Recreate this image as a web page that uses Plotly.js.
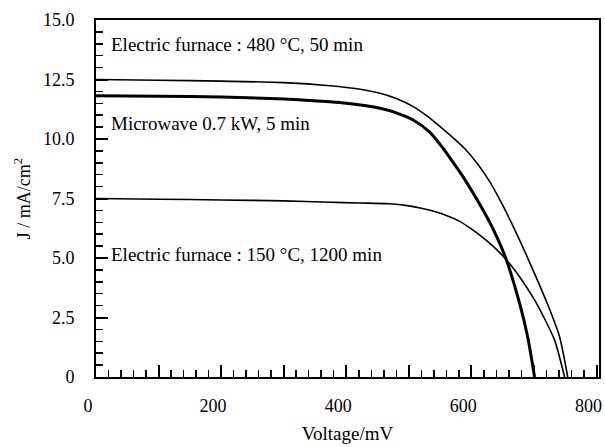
<!DOCTYPE html>
<html>
<head>
<meta charset="utf-8">
<script src="https://cdn.plot.ly/plotly-3.0.1.min.js"></script>
<style>html,body{margin:0;padding:0;background:#fff;}#chart{width:605px;height:447px;}</style>
</head>
<body>
<div id="chart"></div>
<script>
// Electric furnace : 480 °C, 50 min
const vFurnace480 = [0, 100, 200, 300, 374, 420, 454, 480, 507, 530, 550, 570, 590, 610, 630, 650, 670, 690, 710, 725, 741, 754];
const jFurnace480 = [12.5, 12.47, 12.43, 12.37, 12.24, 12.1, 11.92, 11.7, 11.36, 10.95, 10.52, 10.07, 9.58, 8.95, 8.18, 7.22, 6.15, 5.0, 3.8, 2.85, 1.69, 0];
// Microwave 0.7 kW, 5 min
const vMicrowave = [0, 100, 200, 300, 374, 400, 454, 480, 507, 533, 555, 570, 587, 603, 620, 635, 656, 677, 690, 701];
const jMicrowave = [11.82, 11.8, 11.76, 11.68, 11.56, 11.5, 11.29, 11.1, 10.8, 10.3, 9.6, 9.05, 8.4, 7.72, 6.95, 6.2, 4.92, 3.1, 1.68, 0];
// Electric furnace : 150 °C, 1200 min
const vFurnace150 = [0, 100, 200, 300, 374, 420, 468, 500, 520, 540, 560, 580, 600, 620, 640, 660, 680, 700, 715, 733, 749];
const jFurnace150 = [7.5, 7.47, 7.44, 7.4, 7.34, 7.31, 7.28, 7.19, 7.09, 6.96, 6.79, 6.56, 6.22, 5.82, 5.36, 4.8, 4.1, 3.28, 2.55, 1.55, 0];

const labelTexts = ["Electric furnace : 480 °C, 50 min", "Microwave 0.7 kW, 5 min", "Electric furnace : 150 °C, 1200 min"];
const labelX = [20, 20, 20];
const labelY = [13.95, 10.65, 5.13];

const xTickVals = [0, 100, 200, 300, 400, 500, 600, 700, 800];
const xTickText = ["0", "", "200", "", "400", "", "600", "", "800"];
const yTickVals = [0, 2.5, 5, 7.5, 10, 12.5, 15];
const yTickText = ["0", "2.5", "5.0", "7.5", "10.0", "12.5", "15.0"];

const FONT = "Liberation Serif, Times New Roman, serif";

const traces = [
  {x: vFurnace480, y: jFurnace480, mode: "lines", line: {color: "#000", width: 1.6, shape: "spline", smoothing: 0.7}, hoverinfo: "skip"},
  {x: vMicrowave, y: jMicrowave, mode: "lines", line: {color: "#000", width: 3, shape: "spline", smoothing: 0.7}, hoverinfo: "skip"},
  {x: vFurnace150, y: jFurnace150, mode: "lines", line: {color: "#000", width: 1.6, shape: "spline", smoothing: 0.7}, hoverinfo: "skip"}
];

const annotations = labelTexts.map((t, i) => ({
  x: labelX[i], y: labelY[i], xref: "x", yref: "y", text: t, showarrow: false,
  xanchor: "left", yanchor: "middle", font: {family: FONT, size: 19, color: "#000"}
}));

const layout = {
  width: 605, height: 447,
  margin: {l: 96, r: 6, t: 20, b: 70},
  paper_bgcolor: "#fff", plot_bgcolor: "#fff",
  showlegend: false,
  font: {family: FONT, size: 18, color: "#000"},
  xaxis: {
    range: [0, 804], showgrid: false, zeroline: false,
    showline: true, linecolor: "#000", linewidth: 2, mirror: true,
    tickmode: "array", tickvals: xTickVals, ticktext: xTickText,
    ticks: "inside", ticklen: 12, tickwidth: 2, tickcolor: "#000",
    minor: {tickmode: "linear", tick0: 0, dtick: 20, ticks: "inside", ticklen: 7, tickwidth: 1.5, tickcolor: "#000"},
    ticklabelshift: -8, ticklabelstandoff: 11,
    tickfont: {family: FONT, size: 18, color: "#000"},
    title: {text: "Voltage/mV", font: {family: FONT, size: 19, color: "#000"}, standoff: 12}
  },
  yaxis: {
    range: [0, 15], showgrid: false, zeroline: false,
    showline: true, linecolor: "#000", linewidth: 2, mirror: true,
    tickmode: "array", tickvals: yTickVals, ticktext: yTickText,
    ticks: "inside", ticklen: 12, tickwidth: 2, tickcolor: "#000",
    minor: {tickmode: "linear", tick0: 0, dtick: 0.5, ticks: "inside", ticklen: 7, tickwidth: 1.5, tickcolor: "#000"},
    ticklabelstandoff: 16,
    tickfont: {family: FONT, size: 18, color: "#000"},
    title: {text: "J / mA/cm<sup>2</sup>", font: {family: FONT, size: 18, color: "#000"}, standoff: 8}
  },
  annotations: annotations
};

Plotly.newPlot("chart", traces, layout, {staticPlot: true, displayModeBar: false});
</script>
</body>
</html>
